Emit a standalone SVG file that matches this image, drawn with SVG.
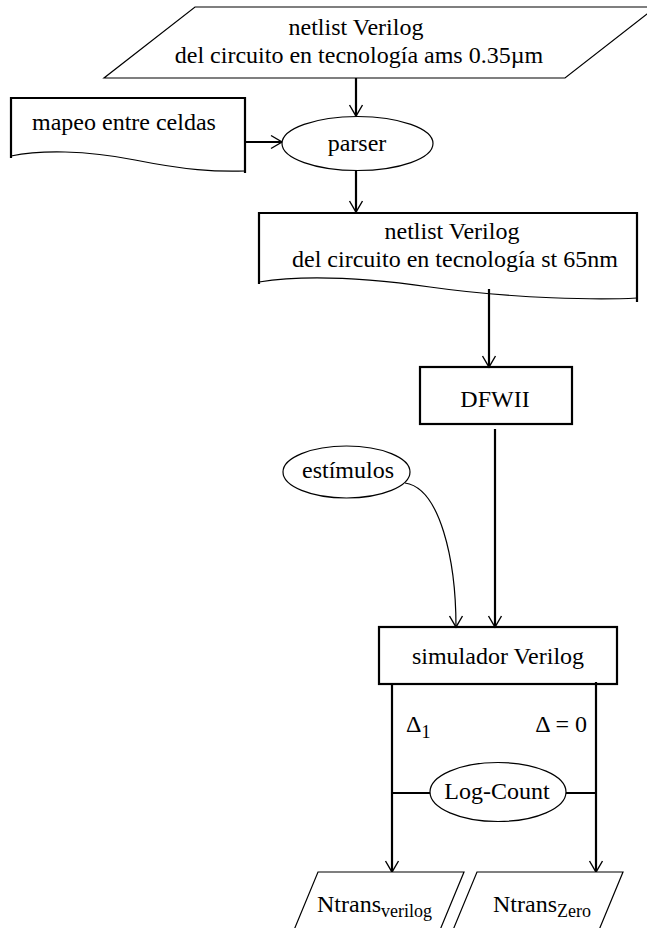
<svg xmlns="http://www.w3.org/2000/svg" width="647" height="928" viewBox="0 0 647 928">
  <style>
    text { font-family: "Liberation Serif", "Times New Roman", serif; font-size: 24px; fill: #000; }
    .mid { text-anchor: middle; }
    .sub { font-size: 18px; }
    .thin { fill: #fff; stroke: #000; stroke-width: 1.2; }
    .thick { fill: none; stroke: #000; stroke-width: 2.2; }
    .wave { fill: none; stroke: #000; stroke-width: 1.2; }
    .conn { fill: none; stroke: #000; stroke-width: 2.2; }
    .curve { fill: none; stroke: #000; stroke-width: 1.2; }
  </style>
  <defs>
    <marker id="arrow" markerUnits="userSpaceOnUse" markerWidth="16" markerHeight="16" viewBox="-13 -8 15 16" refX="0" refY="0" orient="auto">
      <path d="M-11,-6.5 L0,0 L-11,6.5" fill="none" stroke="#000" stroke-width="1.4"/>
    </marker>
  </defs>
  <rect width="647" height="928" fill="#fff"/>

  <!-- connectors -->
  <g id="connectors">
    <path class="conn" d="M356,78 V116" marker-end="url(#arrow)"/>
    <path class="conn" d="M245,142 H282" marker-end="url(#arrow)"/>
    <path class="conn" d="M356,171 V212" marker-end="url(#arrow)"/>
    <path class="conn" d="M489,289 V367" marker-end="url(#arrow)"/>
    <path class="conn" d="M495,429 V627" marker-end="url(#arrow)"/>
    <path class="curve" d="M405,483 C440,488 456,560 456,627" marker-end="url(#arrow)"/>
    <path class="conn" d="M392,684 V872" marker-end="url(#arrow)"/>
    <path class="conn" d="M596,682 V872" marker-end="url(#arrow)"/>
    <path class="conn" d="M392,793 H430 M566,793 H596"/>
  </g>

  <!-- input netlist (0.35 µm) -->
  <g id="netlist-ams">
    <polygon class="thin" points="195,7 656,7 565,78 104,78"/>
    <text class="mid" x="356" y="35">netlist Verilog</text>
    <text class="mid" x="359" y="63">del circuito en tecnología ams 0.35µm</text>
  </g>

  <!-- cell mapping document -->
  <g id="mapeo">
    <path class="wave" d="M11,156 C40,150 85,150 135,160 S215,172 245,171"/>
    <path class="thick" d="M11,158 V98 H245 V173"/>
    <text x="32" y="130">mapeo entre celdas</text>
  </g>

  <!-- parser -->
  <g id="parser">
    <ellipse class="thin" cx="357.5" cy="143.5" rx="75.5" ry="27"/>
    <text class="mid" x="357" y="151">parser</text>
  </g>

  <!-- output netlist (65 nm) document -->
  <g id="netlist-st">
    <path class="wave" d="M259,282 C290,277 345,275 430,287 S600,300 637,298"/>
    <path class="thick" d="M259,284 V213 H637 V302"/>
    <text class="mid" x="452" y="239">netlist Verilog</text>
    <text class="mid" x="455" y="267">del circuito en tecnología st 65nm</text>
  </g>

  <!-- DFWII -->
  <g id="dfwii">
    <rect class="thick" x="420" y="367" width="152" height="57"/>
    <text class="mid" x="495" y="407">DFWII</text>
  </g>

  <!-- stimuli -->
  <g id="estimulos">
    <ellipse class="thin" cx="346.5" cy="472" rx="63.5" ry="26"/>
    <text class="mid" x="348" y="478">estímulos</text>
  </g>

  <!-- Verilog simulator -->
  <g id="simulador">
    <rect class="thick" x="379" y="627" width="238" height="57"/>
    <text class="mid" x="498" y="664">simulador Verilog</text>
  </g>

  <!-- delay labels -->
  <g id="labels">
    <text x="406" y="732">Δ<tspan class="sub" dy="6">1</tspan></text>
    <text x="587" y="732" text-anchor="end">Δ = 0</text>
  </g>

  <!-- Log-Count -->
  <g id="logcount">
    <ellipse class="thin" cx="498" cy="792" rx="68" ry="29.5"/>
    <text class="mid" x="497" y="799">Log-Count</text>
  </g>

  <!-- transition counts -->
  <g id="ntrans-verilog">
    <polygon class="thin" points="318,872 464,872 440,930 294,930"/>
    <text x="317" y="912">Ntrans<tspan class="sub" dy="5">verilog</tspan></text>
  </g>
  <g id="ntrans-zero">
    <polygon class="thin" points="477,872 623,872 599,930 453,930"/>
    <text x="493" y="912">Ntrans<tspan class="sub" dy="5">Zero</tspan></text>
  </g>
</svg>
